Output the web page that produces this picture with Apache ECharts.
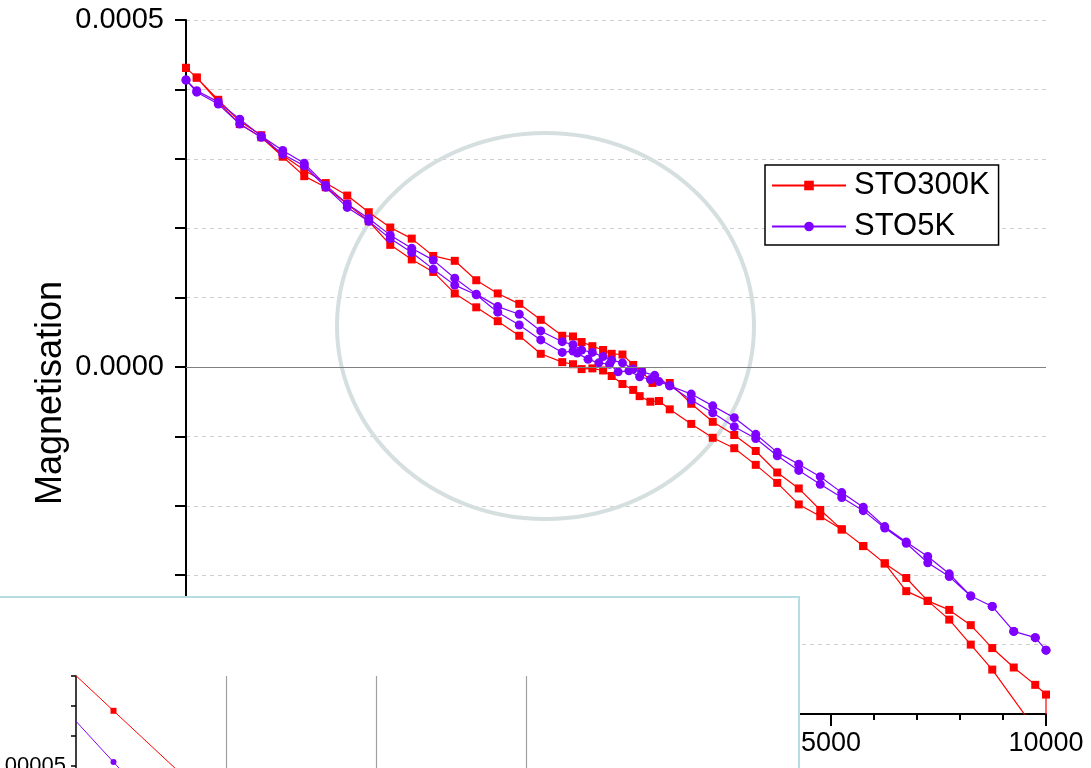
<!DOCTYPE html>
<html><head><meta charset="utf-8">
<script src="https://cdn.jsdelivr.net/npm/echarts@6/dist/echarts.min.js"></script>
<style>html,body{margin:0;padding:0;background:#fff}#c{width:1091px;height:768px}</style>
</head><body><div id="c"></div>
<script>
// ---- data (field in Oe, magnetisation in units of 1e-4) ----
const redLowX = [-10000,-9750,-9250,-8750,-8250,-7750,-7250,-6750,-6250,-5750,-5250,-4750,-4250,-3750,-3250,-2750,-2250,-1750,-1250,
  -1000,-800,-550,-300,-100,150,400,550,800,1000,
  1250,1750,2250,2750,3250,3750,4250,4750,5250,5750,6250,6750,7250,7750,8250,8750,9750,10000];
const redLowY = [4.31,4.17,3.82,3.50,3.31,3.03,2.75,2.59,2.35,2.10,1.76,1.55,1.37,1.06,0.86,0.66,0.45,0.19,0.07,
  0.04,-0.03,-0.02,-0.05,-0.13,-0.245,-0.33,-0.42,-0.50,-0.49,
  -0.61,-0.82,-1.02,-1.17,-1.41,-1.67,-1.98,-2.15,-2.34,-2.58,-2.83,-3.23,-3.37,-3.64,-4.00,-4.36,-5.22,-5.55];
const redUpX = [-10000,-9750,-9250,-8750,-8250,-7750,-7250,-6750,-6250,-5750,-5250,-4750,-4250,-3750,-3250,-2750,-2250,-1750,-1250,
  -1000,-800,-550,-300,-100,150,400,600,850,
  1250,1750,2250,2750,3250,3750,4250,4750,5250,5750,6250,6750,7250,7750,8250,8750,9250,9750,10000];
const redUpY = [4.31,4.17,3.85,3.54,3.34,3.05,2.84,2.65,2.47,2.23,2.01,1.85,1.60,1.53,1.25,1.06,0.91,0.68,0.45,
  0.44,0.36,0.30,0.245,0.19,0.18,0.03,-0.07,-0.23,
  -0.23,-0.53,-0.79,-0.98,-1.21,-1.52,-1.75,-2.06,-2.34,-2.58,-2.83,-3.04,-3.37,-3.50,-3.72,-4.05,-4.33,-4.58,-4.72];
const purLowX = [-10000,-9750,-9250,-8750,-8250,-7750,-7250,-6750,-6250,-5750,-5250,-4750,-4250,-3750,-3250,-2750,-2250,-1750,-1250,
  -1000,-900,-650,-400,-150,50,300,550,800,1000,
  1250,1750,2250,2750,3250,3750,4250,4750,5250,5750,6250,6750,7250,7750,8250,8750,9250,9750,10000];
const purLowY = [4.135,3.96,3.79,3.50,3.31,3.065,2.90,2.59,2.30,2.10,1.85,1.65,1.41,1.18,1.04,0.79,0.605,0.39,0.21,
  0.23,0.20,0.11,0.06,0.04,-0.07,-0.055,-0.14,-0.18,-0.21,
  -0.27,-0.475,-0.66,-0.86,-1.03,-1.28,-1.49,-1.69,-1.88,-2.07,-2.32,-2.54,-2.82,-3.02,-3.30,-3.45,-3.81,-3.90,-4.08];
const purUpX = [-10000,-9750,-9250,-8750,-8250,-7750,-7250,-6750,-6250,-5750,-5250,-4750,-4250,-3750,-3250,-2750,-2250,-1750,-1250,
  -1000,-800,-550,-300,-100,150,400,600,900,
  1250,1750,2250,2750,3250,3750,4250,4750,5250,5750,6250,6750,7250,7750,8250,8750,9250,9750,10000];
const purUpY = [4.135,3.98,3.82,3.57,3.33,3.12,2.935,2.62,2.35,2.14,1.90,1.71,1.54,1.28,1.05,0.87,0.76,0.52,0.365,
  0.32,0.245,0.21,0.15,0.10,0.06,-0.03,-0.07,-0.12,
  -0.27,-0.39,-0.56,-0.73,-0.97,-1.23,-1.40,-1.58,-1.81,-2.02,-2.30,-2.52,-2.73,-2.98,-3.30,-3.45,-3.81,-3.90,-4.08];
// inset (partially visible zoomed panel)
const insetX = [-10250,-9750,-9250];
const insetRedY = [0.0000918,0.0000684,0.0000451];
const insetPurY = [0.0000785,0.0000513,0.0000241];
const insetGridX = [-9000,-8000,-7000];
const insetGridY = [0.00005];
const seriesNames = ['STO300K','STO5K'];

const F = '"Liberation Sans", Arial, sans-serif';
const pts = (xs, ys, k) => xs.map((x, i) => [x, ys[i] * k]);
const loop = (lx, ly, ux, uy) => pts(lx, ly, 1e-4).concat(pts(ux, uy, 1e-4).reverse());
const insetLine = {color: '#a0a0a0', type: 'solid', width: 1.2};

const chart = echarts.init(document.getElementById('c'), null, {renderer: 'canvas'});
chart.setOption({
  animation: false,
  backgroundColor: '#fff',
  grid: [
    {left: 186, right: 45, top: 20, bottom: 54, outerBoundsMode: 'none', containLabel: false},
    {left: 76, top: 676, width: 600, height: 180, outerBoundsMode: 'none', containLabel: false}
  ],
  xAxis: [
    {type: 'value', gridIndex: 0, min: -10000, max: 10000, interval: 5000,
     axisLine: {onZero: false, lineStyle: {color: '#000', width: 2}},
     axisTick: {length: 12, lineStyle: {color: '#000', width: 2}},
     minorTick: {show: true, splitNumber: 5, length: 6, lineStyle: {color: '#000', width: 2}},
     axisLabel: {fontSize: 27, fontFamily: F, color: '#000', margin: 16, formatter: v => String(v)},
     splitLine: {show: false}},
    {type: 'value', gridIndex: 1, min: -10000, max: -6000, interval: 1000, z: 20,
     axisLine: {show: false}, axisTick: {show: false}, axisLabel: {show: false}, splitLine: {show: false}}
  ],
  yAxis: [
    {type: 'value', gridIndex: 0, min: -0.0005, max: 0.0005, interval: 0.0001,
     axisLine: {onZero: false, lineStyle: {color: '#000', width: 2}},
     axisTick: {length: 11, lineStyle: {color: '#000', width: 2}},
     axisLabel: {fontSize: 29, fontFamily: F, color: '#000', margin: 22,
       formatter: v => (Math.abs(Math.round(v * 1e4)) % 5 === 0 ? (Math.round(v * 1e4) / 1e4).toFixed(4) : '')},
     splitLine: {show: true, lineStyle: {type: [4, 4], color: '#cfcfcf', width: 1}}},
    {type: 'value', gridIndex: 1, min: 0.00002, max: 0.00008, interval: 0.00001, z: 20,
     axisLine: {show: true, onZero: false, lineStyle: {color: '#000', width: 1.5}},
     axisTick: {show: true, length: 5, lineStyle: {color: '#000', width: 1.5}},
     axisLabel: {fontSize: 22, fontFamily: F, color: '#000', margin: 10,
       formatter: v => (Math.abs(v - 0.00005) < 1e-9 ? '0.00005' : '')},
     splitLine: {show: false}}
  ],
  legend: {
    data: seriesNames, orient: 'vertical', left: 765, top: 165,
    padding: [5, 9, 3, 6], itemGap: 10, itemWidth: 74, itemHeight: 12,
    backgroundColor: '#fff', borderColor: '#000', borderWidth: 1.5, borderRadius: 0,
    textStyle: {fontSize: 31, fontFamily: F, color: '#000', padding: [0, 0, 0, 3]}
  },
  graphic: [
    {type: 'ellipse', z: 1, silent: true,
     shape: {cx: 545.5, cy: 326, rx: 208.5, ry: 193},
     style: {fill: 'transparent', stroke: '#d6dfdf', lineWidth: 4}},
    {type: 'rect', z: 10, silent: true,
     shape: {x: -2, y: 597, width: 801, height: 200},
     style: {fill: '#fff', stroke: '#b6dde3', lineWidth: 2}},
    {type: 'text', z: 10, x: 51, y: 393, rotation: Math.PI / 2, silent: true,
     style: {text: 'Magnetisation', fontSize: 36, fontFamily: F, fill: '#000', align: 'center', verticalAlign: 'middle'}}
  ],
  series: [
    {name: seriesNames[0], type: 'line', xAxisIndex: 0, yAxisIndex: 0, z: 3,
     data: loop(redLowX, redLowY, redUpX, redUpY),
     symbol: 'rect', symbolSize: 8, showAllSymbol: true, clip: true,
     itemStyle: {color: '#ff0000'}, lineStyle: {color: '#ff0000', width: 1.2},
     markLine: {silent: true, symbol: 'none', label: {show: false}, animation: false,
       lineStyle: {color: '#808080', type: 'solid', width: 1}, data: [{yAxis: 0}]}},
    {name: seriesNames[1], type: 'line', xAxisIndex: 0, yAxisIndex: 0, z: 4,
     data: loop(purLowX, purLowY, purUpX, purUpY),
     symbol: 'circle', symbolSize: 9, showAllSymbol: true, clip: true,
     itemStyle: {color: '#8000ff'}, lineStyle: {color: '#8000ff', width: 1.2}},
    {name: 'inset300K', type: 'line', xAxisIndex: 1, yAxisIndex: 1, z: 20,
     data: pts(insetX, insetRedY, 1), symbol: 'rect', symbolSize: 6, clip: true,
     itemStyle: {color: '#ff0000'}, lineStyle: {color: '#ff0000', width: 1},
     markLine: {silent: true, z: 15, symbol: 'none', label: {show: false}, animation: false,
       lineStyle: insetLine, data: insetGridX.map(x => ({xAxis: x}))}},
    {name: 'inset5K', type: 'line', xAxisIndex: 1, yAxisIndex: 1, z: 20,
     data: pts(insetX, insetPurY, 1), symbol: 'circle', symbolSize: 6, clip: true,
     itemStyle: {color: '#8000ff'}, lineStyle: {color: '#8000ff', width: 1},
     markLine: {silent: true, z: 15, symbol: 'none', label: {show: false}, animation: false,
       lineStyle: insetLine, data: insetGridY.map(y => ({yAxis: y}))}}
  ]
});
</script></body></html>
